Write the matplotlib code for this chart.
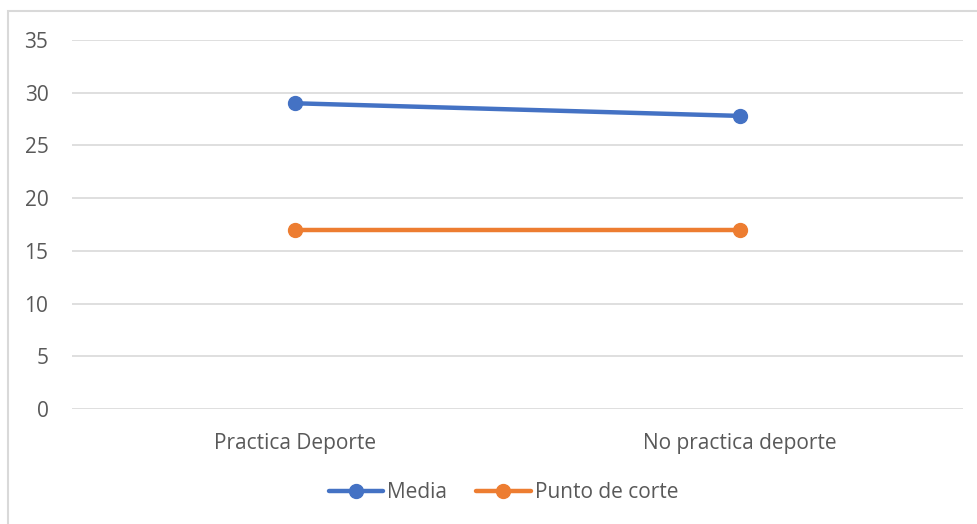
import matplotlib
matplotlib.use("Agg")
import matplotlib.pyplot as plt
from matplotlib.patches import Rectangle

categories = ["Practica Deporte", "No practica deporte"]
media = [29, 27.8]
punto_corte = [17, 17]
yticks = [0, 5, 10, 15, 20, 25, 30, 35]

plt.rcParams['font.family'] = ['Open Sans', 'DejaVu Sans']

fig = plt.figure(figsize=(9.78, 5.24), dpi=100)
fig.patches.append(Rectangle((8/978, -0.1), 1.2, 1 - 11/524 + 0.1, transform=fig.transFigure,
                             fill=False, edgecolor='#d9d9d9', linewidth=1.5))
ax = fig.add_axes([72/978, 1 - 409/524, (963-72)/978, (409-40)/524])

x = [0, 1]
ax.plot(x, media, color='#4472C4', linewidth=3.2, marker='o', markersize=10, label='Media',
        solid_capstyle='round')
ax.plot(x, punto_corte, color='#ED7D31', linewidth=3.2, marker='o', markersize=10, label='Punto de corte',
        solid_capstyle='round')

ax.set_xlim(-0.5, 1.5)
ax.set_ylim(0, 35)
ax.set_yticks(yticks)
ax.set_xticks(x)
ax.set_xticklabels(categories)
ax.grid(axis='y', color='#d9d9d9', linewidth=1.2)
ax.set_axisbelow(True)
for s in ax.spines.values():
    s.set_visible(False)
ax.tick_params(axis='both', length=0, labelsize=15, labelcolor='#595959')
ax.tick_params(axis='y', pad=17)
ax.tick_params(axis='x', pad=17)

leg = ax.legend(loc='center', bbox_to_anchor=(0.5 - 14/891, (1 - 493/524 - (1 - 409/524)) / ((409-40)/524)),
                ncol=2, frameon=False, fontsize=15, labelcolor='#595959',
                handlelength=2.6, columnspacing=1.4, handletextpad=0.2)

fig.savefig("out.png", dpi=100)
